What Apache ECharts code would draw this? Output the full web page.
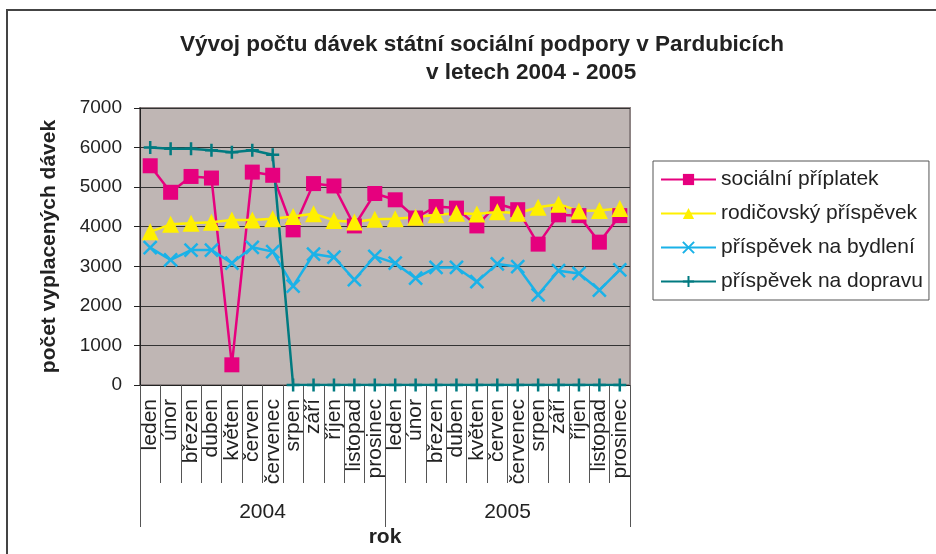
<!DOCTYPE html>
<html>
<head>
<meta charset="utf-8">
<script src="https://cdn.jsdelivr.net/npm/echarts@6/dist/echarts.min.js"></script>
<style>
  html, body { margin: 0; padding: 0; background: #fff; }
  #chart { width: 936px; height: 554px; }
</style>
</head>
<body>
<div id="chart"></div>
<script>
const months = ["leden", "únor", "březen", "duben", "květen", "červen", "červenec", "srpen", "září", "říjen", "listopad", "prosinec",
  "leden", "únor", "březen", "duben", "květen", "červen", "červenec", "srpen", "září", "říjen", "listopad", "prosinec"];
const years = ["2004", "2005"];
const yTicks = [0, 1000, 2000, 3000, 4000, 5000, 6000, 7000];

const socialni = [5540, 4870, 5270, 5230, 510, 5380, 5300, 3920, 5090, 5030, 4020, 4840,
  4680, 4220, 4510, 4470, 4020, 4580, 4430, 3560, 4300, 4280, 3610, 4280];
const rodicovsky = [3870, 4060, 4090, 4110, 4170, 4170, 4200, 4260, 4330, 4160, 4120, 4190,
  4200, 4240, 4300, 4340, 4320, 4380, 4340, 4490, 4570, 4400, 4410, 4460];
const bydleni = [3470, 3160, 3410, 3410, 3080, 3480, 3370, 2500, 3310, 3230, 2660, 3250,
  3080, 2700, 2970, 2970, 2610, 3060, 2990, 2280, 2890, 2820, 2400, 2910];
const doprava = [6000, 5970, 5970, 5930, 5880, 5930, 5820, 0, 0, 0, 0, 0,
  0, 0, 0, 0, 0, 0, 0, 0, 0, 0, 0, 0];

const FONT = "Liberation Sans, Arial, sans-serif";

const mkSeries = (name, data, color, symbol, size) => ({
  name: name,
  type: "line",
  data: data,
  symbol: symbol,
  symbolSize: size,
  showAllSymbol: true,
  lineStyle: { color: color, width: 2.5 },
  itemStyle: { color: color, borderColor: color, borderWidth: symbol.indexOf("path") === 0 ? 2.5 : 0 },
  emphasis: { disabled: true },
});

var myChart = echarts.init(document.getElementById("chart"));
myChart.setOption({
  animation: false,
  textStyle: { fontFamily: FONT, color: "#222" },
  title: [
    {
      text: "Vývoj počtu dávek státní sociální podpory v Pardubicích",
      left: 175, top: 28,
      textStyle: { fontSize: 22.5, fontWeight: "bold", color: "#222", fontFamily: FONT },
    },
    {
      text: "v letech 2004 - 2005",
      left: 421, top: 56,
      textStyle: { fontSize: 22.5, fontWeight: "bold", color: "#222", fontFamily: FONT },
    },
  ],
  graphic: [
    {
      type: "rect",
      shape: { x: 7, y: 10, width: 960, height: 600 },
      style: { fill: "none", stroke: "#444", lineWidth: 2 },
      silent: true,
    },
  ],
  legend: {
    orient: "vertical",
    left: 653, top: 161,
    padding: [8, 6, 8, 7],
    itemWidth: 55, itemHeight: 14, itemGap: 13,
    borderColor: "#555", borderWidth: 1,
    textStyle: { fontSize: 21, color: "#222", fontFamily: FONT },
    data: ["sociální příplatek", "rodičovský příspěvek", "příspěvek na bydlení", "příspěvek na dopravu"],
  },
  grid: {
    left: 140, right: 306, top: 108, bottom: 169,
    show: true, backgroundColor: "#BFB6B4", borderColor: "#8C8282", borderWidth: 2,
  },
  xAxis: [
    {
      type: "category",
      data: months,
      boundaryGap: true,
      axisLine: { show: true, lineStyle: { color: "#222", width: 1 } },
      axisTick: { show: true, interval: 0, length: 98, lineStyle: { color: "#555" } },
      axisLabel: { interval: 0, rotate: 90, fontSize: 21, color: "#222", margin: 14, fontFamily: FONT },
      splitLine: { show: false },
    },
    {
      type: "category",
      data: years,
      position: "bottom",
      boundaryGap: true,
      axisLine: { show: false },
      axisTick: { show: true, interval: 0, length: 142, lineStyle: { color: "#555" } },
      axisLabel: { interval: 0, fontSize: 21, color: "#222", margin: 117, fontFamily: FONT },
      name: "rok",
      nameLocation: "middle",
      nameGap: 142,
      nameTextStyle: { fontSize: 21, fontWeight: "bold", color: "#222", fontFamily: FONT },
    },
  ],
  yAxis: {
    type: "value",
    min: yTicks[0], max: yTicks[yTicks.length - 1], interval: 1000,
    axisLine: { show: true, lineStyle: { color: "#222", width: 1 } },
    axisTick: { show: true, length: 6, lineStyle: { color: "#222" } },
    axisLabel: { fontSize: 19, color: "#222", margin: 18, fontFamily: FONT, formatter: (v) => String(v) },
    splitLine: { show: true, lineStyle: { color: "#333", width: 1 } },
    name: "počet vyplacených dávek",
    nameLocation: "middle",
    nameRotate: 90,
    nameGap: 80,
    nameTextStyle: { fontSize: 21, fontWeight: "bold", color: "#222", fontFamily: FONT },
  },
  series: [
    mkSeries("sociální příplatek", socialni, "#E6007E", "rect", 15),
    mkSeries("rodičovský příspěvek", rodicovsky, "#FFF000", "triangle", 17),
    mkSeries("příspěvek na bydlení", bydleni, "#1AB2E8", "path://M0,0L10,10M10,0L0,10", 13),
    mkSeries("příspěvek na dopravu", doprava, "#007A80", "path://M5,0L5,10M0,5L10,5", 13),
  ],
});
</script>
</body>
</html>
